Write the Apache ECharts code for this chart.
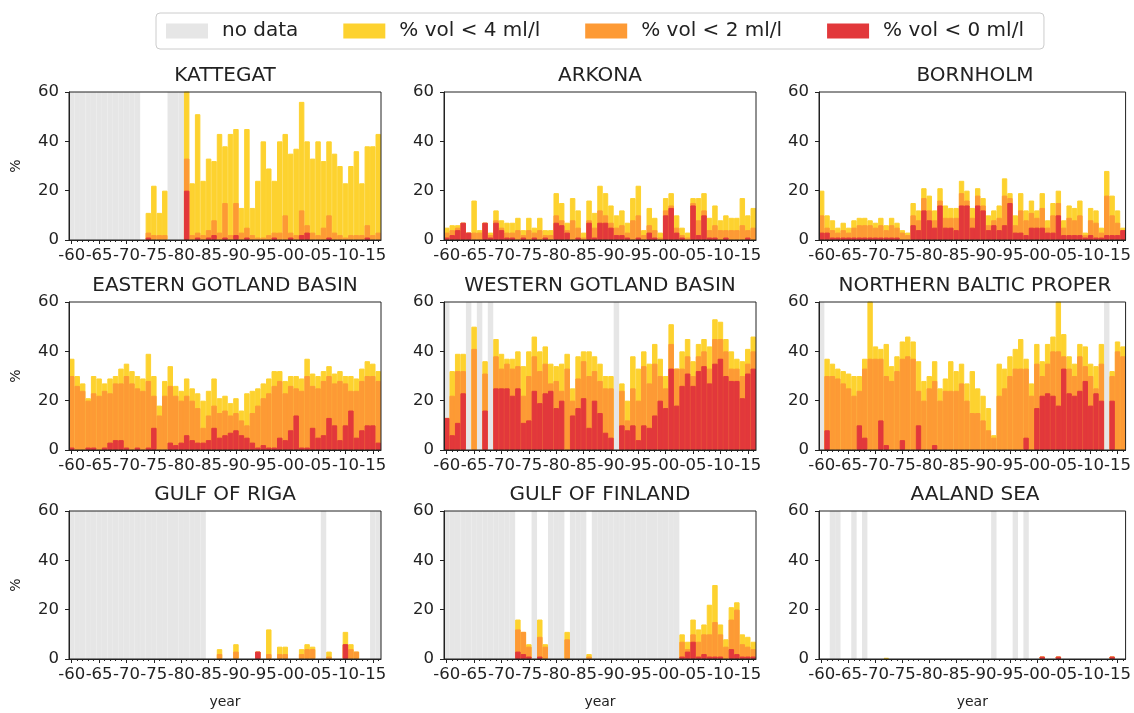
<!DOCTYPE html>
<html><head><meta charset="utf-8">
<script src="https://cdn.jsdelivr.net/npm/echarts@6/dist/echarts.min.js"></script>
<style>html,body{margin:0;padding:0;background:#fff}#c{width:1134px;height:713px}</style>
</head><body><div id="c"></div>
<script>
// ---------------- DATA ----------------
const years = [1960,1961,1962,1963,1964,1965,1966,1967,1968,1969,
  1970,1971,1972,1973,1974,1975,1976,1977,1978,1979,
  1980,1981,1982,1983,1984,1985,1986,1987,1988,1989,
  1990,1991,1992,1993,1994,1995,1996,1997,1998,1999,
  2000,2001,2002,2003,2004,2005,2006,2007,2008,2009,
  2010,2011,2012,2013,2014,2015,2016];
const tickYears = [1960,1965,1970,1975,1980,1985,1990,1995,2000,2005,2010,2015];
const tickLabels = ['-60','-65','-70','-75','-80','-85','-90','-95','-00','-05','-10','-15'];
const legendNames = ['no data','% vol < 4 ml/l','% vol < 2 ml/l','% vol < 0 ml/l'];
const panelNames = ['KATTEGAT','ARKONA','BORNHOLM','EASTERN GOTLAND BASIN','WESTERN GOTLAND BASIN',
  'NORTHERN BALTIC PROPER','GULF OF RIGA','GULF OF FINLAND','AALAND SEA'];

// KATTEGAT
const kattegatLt4 = [0,0,0,0,0,0,0,0,0,0, 0,0,0,0,11,22,11,20,0,0, 0,62,23,51,24,33,32,43,38,43,
  45,13,45,13,24,40,29,24,40,43, 35,37,56,40,33,40,32,40,35,30, 23,30,36,23,38,38,43];
const kattegatLt2 = [0,0,0,0,0,0,0,0,0,0, 0,0,0,0,3,2,2,2,0,0, 0,33,2,3,2,4,8,3,15,2,
  15,3,5,2,1,1,2,3,3,10, 3,2,12,6,3,2,5,10,3,2, 1,2,2,2,6,2,3];
const kattegatLt0 = [0,0,0,0,0,0,0,0,0,0, 0,0,0,0,1,0,0,0,0,0, 0,20,0,1,0,1,2,0,1,0,
  2,0,1,0,0,0,0,1,0,0, 1,0,2,3,0,0,0,1,0,0, 0,0,0,0,1,0,0];
const kattegatNoData = [1960,1961,1962,1963,1964,1965,1966,1967,1968,1969,1970,1971,1972,1978,1979,1980];

// ARKONA
const arkonaLt4 = [5,6,6,7,3,16,4,7,3,12, 8,7,7,9,4,9,5,9,4,4, 19,15,7,17,12,3,16,11,22,19,
  14,10,12,7,17,22,4,13,9,3, 17,19,10,5,3,17,17,19,9,14, 8,10,9,9,17,10,13];
const arkonaLt2 = [3,4,5,7,3,3,3,7,2,8, 5,3,3,4,2,4,3,4,2,2, 10,8,4,8,5,1,8,5,12,10,
  7,5,6,3,8,10,2,6,4,1, 12,14,5,2,1,15,8,12,4,6, 4,4,4,4,6,4,5];
const arkonaLt0 = [1,2,4,7,3,0,0,7,1,7, 4,1,1,0,1,0,1,0,1,0, 7,6,3,0,1,0,7,1,7,7,
  5,2,2,1,0,1,0,3,1,0, 10,13,3,1,0,14,2,10,1,1, 0,1,0,0,0,1,0];
const arkonaNoData = [];

// BORNHOLM
const bornholmLt4 = [20,10,8,5,7,5,8,9,9,8, 7,9,6,9,7,4,3,15,12,21, 18,12,21,14,13,13,24,20,13,21,
  17,10,12,14,25,19,10,19,12,16, 12,19,8,15,20,8,14,13,16,3, 13,12,5,28,18,12,5];
const bornholmLt2 = [10,5,4,3,4,3,5,6,6,6, 5,6,4,6,5,3,2,10,8,17, 12,8,16,9,9,9,19,16,9,18,
  14,6,8,9,18,17,6,12,8,11, 9,13,5,10,15,5,9,8,10,2, 8,7,3,18,10,7,4];
const bornholmLt0 = [3,3,1,1,1,1,1,1,1,1, 1,1,1,1,1,0,0,6,4,12, 8,5,14,5,5,4,14,14,5,14,
  12,4,6,4,6,15,3,3,2,5, 5,5,3,3,10,2,2,2,2,1, 2,1,1,2,2,2,4];
const bornholmNoData = [];

// EASTERN GOTLAND BASIN
const easternGotlandLt4 = [37,30,27,21,30,29,27,29,30,33, 35,32,30,29,39,30,18,28,34,26,
  24,29,25,23,20,24,29,21,22,19, 21,16,23,24,25,27,29,32,32,28, 30,30,29,37,31,30,32,34,31,32,
  30,30,29,33,36,35,32];
const easternGotlandLt2 = [30,26,24,20,23,22,24,23,27,27, 30,27,25,24,28,22,14,22,26,22,
  20,22,20,17,9,14,18,15,16,14, 15,12,10,15,18,21,23,26,28,23, 26,25,24,30,26,25,28,30,27,28,
  27,24,24,28,30,30,28];
const easternGotlandLt0 = [1,0,0,1,1,0,1,3,4,4, 1,0,1,0,1,9,0,0,3,2, 3,6,4,3,3,4,9,5,6,7,
  8,6,5,3,1,2,1,1,5,4, 8,14,1,1,9,5,6,13,10,4, 10,16,5,8,10,10,3];
const easternGotlandNoData = [];

// WESTERN GOTLAND BASIN
const westernGotlandLt4 = [13,32,39,39,0,50,0,36,0,45, 39,37,37,40,34,40,46,40,42,35,
  34,35,39,25,38,40,40,38,35,30, 30,0,27,20,38,33,40,35,43,37, 30,51,33,40,45,36,43,45,42,53,
  52,45,40,37,36,41,46];
const westernGotlandLt2 = [13,22,32,32,0,41,0,31,0,38, 33,35,33,34,22,30,38,32,35,27,
  28,24,33,20,29,36,30,32,28,25, 25,0,24,12,25,20,34,27,35,30, 25,43,33,33,38,30,38,40,33,45,
  45,40,33,33,30,35,40];
const westernGotlandLt0 = [13,6,11,23,0,0,0,16,0,25, 25,25,22,25,11,12,24,19,23,24,
  17,20,0,14,17,21,9,20,15,7, 5,0,10,8,10,4,10,9,14,20, 17,33,18,26,31,26,32,34,27,35,
  37,30,28,28,21,31,33];
const westernGotlandNoData = [1960,1964,1966,1968,1991];

// NORTHERN BALTIC PROPER
const northernBalticLt4 = [0,37,35,33,32,31,30,30,37,62, 42,41,43,34,38,44,46,44,36,28,
  30,36,25,29,36,32,35,27,32,25, 22,17,6,35,33,38,41,45,37,27, 43,36,43,46,62,47,38,35,43,42,
  35,34,43,0,32,44,42];
const northernBalticLt2 = [0,30,30,29,27,25,22,24,33,37, 37,37,30,28,32,37,38,37,24,20,
  25,28,20,24,24,24,27,20,15,15, 12,8,5,22,25,30,33,33,33,22, 35,30,35,40,40,38,33,30,38,34,
  30,25,35,0,30,40,38];
const northernBalticLt0 = [0,8,0,0,0,0,0,10,5,0, 0,12,2,0,0,4,0,0,10,0,
  0,2,0,0,0,0,0,0,0,0, 0,0,0,0,0,0,0,0,5,0, 17,22,23,22,18,33,23,22,24,28,
  18,23,20,0,20,0,0];
const northernBalticNoData = [1960,2013];

// GULF OF RIGA
const gulfRigaLt4 = [0,0,0,0,0,0,0,0,0,0, 0,0,0,0,0,0,0,0,0,0, 0,0,0,0,0,0,0,4,0,0,
  6,0,0,0,3,0,12,0,5,5, 0,0,4,6,5,0,0,3,0,0, 11,6,3,0,0,0,0];
const gulfRigaLt2 = [0,0,0,0,0,0,0,0,0,0, 0,0,0,0,0,0,0,0,0,0, 0,0,0,0,0,0,0,2,0,0,
  3,0,0,0,3,0,2,0,2,2, 0,0,2,4,4,0,0,1,0,0, 6,4,3,0,0,0,0];
const gulfRigaLt0 = [0,0,0,0,0,0,0,0,0,0, 0,0,0,0,0,0,0,0,0,0, 0,0,0,0,0,0,0,0,0,0,
  0,0,0,0,3,0,0,0,0,0, 0,0,0,0,0,0,0,0,0,0, 6,0,0,0,0,0,0];
const gulfRigaNoData = [1960,1961,1962,1963,1964,1965,1966,1967,1968,1969,1970,1971,1972,1973,1974,
  1975,1976,1977,1978,1979,1980,1981,1982,1983,1984,2006,2015,2016];

// GULF OF FINLAND
const gulfFinlandLt4 = [0,0,0,0,0,0,0,0,0,0, 0,0,0,16,11,6,0,16,6,0, 0,0,11,0,0,0,2,0,0,0,
  0,0,0,0,0,0,0,0,0,0, 0,0,0,10,7,16,12,14,22,30, 14,8,21,23,10,9,7];
const gulfFinlandLt2 = [0,0,0,0,0,0,0,0,0,0, 0,0,0,12,11,5,0,9,5,0, 0,0,8,0,0,0,1,0,0,0,
  0,0,0,0,0,0,0,0,0,0, 0,0,0,7,4,10,7,10,10,15, 10,5,16,20,6,5,4];
const gulfFinlandLt0 = [0,0,0,0,0,0,0,0,0,0, 0,0,0,3,2,1,0,1,0,0, 0,0,0,0,0,0,0,0,0,0,
  0,0,0,0,0,0,0,0,0,0, 0,0,0,1,3,7,1,2,1,1, 1,0,4,2,1,1,1];
const gulfFinlandNoData = [1960,1961,1962,1963,1964,1965,1966,1967,1968,1969,1970,1971,1972,1976,
  1979,1980,1981,1983,1984,1985,1987,1988,1989,1990,1991,1992,1993,1994,1995,1996,1997,1998,
  1999,2000,2001,2002];

// AALAND SEA
const aalandLt4 = [0,0,0,0,0,0,0,0,0,0, 0,0,0.5,0,0,0,0,0,0,0, 0,0,0,0,0,0,0,0,0,0,
  0,0,0,0,0,0,0,0,0,0, 0,1,0,0,1,0,0,0,0,0, 0,0,0,0,1,0,0];
const aalandLt2 = [0,0,0,0,0,0,0,0,0,0, 0,0,0,0,0,0,0,0,0,0, 0,0,0,0,0,0,0,0,0,0,
  0,0,0,0,0,0,0,0,0,0, 0,1,0,0,1,0,0,0,0,0, 0,0,0,0,1,0,0];
const aalandLt0 = [0,0,0,0,0,0,0,0,0,0, 0,0,0,0,0,0,0,0,0,0, 0,0,0,0,0,0,0,0,0,0,
  0,0,0,0,0,0,0,0,0,0, 0,1,0,0,1,0,0,0,0,0, 0,0,0,0,1,0,0];
const aalandNoData = [1962,1963,1966,1968,1992,1996,1998];

// ---------------- CHART ----------------
const panels = [
  [kattegatLt4, kattegatLt2, kattegatLt0, kattegatNoData],
  [arkonaLt4, arkonaLt2, arkonaLt0, arkonaNoData],
  [bornholmLt4, bornholmLt2, bornholmLt0, bornholmNoData],
  [easternGotlandLt4, easternGotlandLt2, easternGotlandLt0, easternGotlandNoData],
  [westernGotlandLt4, westernGotlandLt2, westernGotlandLt0, westernGotlandNoData],
  [northernBalticLt4, northernBalticLt2, northernBalticLt0, northernBalticNoData],
  [gulfRigaLt4, gulfRigaLt2, gulfRigaLt0, gulfRigaNoData],
  [gulfFinlandLt4, gulfFinlandLt2, gulfFinlandLt0, gulfFinlandNoData],
  [aalandLt4, aalandLt2, aalandLt0, aalandNoData]
];
const yMax = 60;
const colLeft = [69, 444, 819], rowTop = [92, 302, 511], gridW = 312, gridH = 148;
const colors = ['#e6e6e6', '#fdd22f', '#fd9a35', '#e2383b'];
const ink = '#222222';
const font = 'DejaVu Sans';

const grid = [], xAxis = [], yAxis = [], series = [], title = [];
panels.forEach((p, k) => {
  const r = Math.floor(k / 3), c = k % 3;
  grid.push({left: colLeft[c], top: rowTop[r], width: gridW, height: gridH, show: true,
    borderColor: ink, borderWidth: 1, z: 3});
  title.push({text: panelNames[k], left: colLeft[c] + gridW / 2, top: rowTop[r] - 16,
    textAlign: 'center', textVerticalAlign: 'middle', padding: 0,
    textStyle: {fontFamily: font, fontSize: 20, fontWeight: 'normal', color: ink}});
  xAxis.push({type: 'value', gridIndex: k, min: 1959.5, max: 2016.5, position: 'bottom', z: 4,
    name: r === 2 ? 'year' : '', nameLocation: 'middle', nameGap: 36,
    nameTextStyle: {fontFamily: font, fontSize: 14, color: ink},
    axisLine: {show: true, onZero: false, lineStyle: {color: ink, width: 1}},
    axisTick: {show: true, customValues: tickYears, length: 4, lineStyle: {color: ink}},
    axisLabel: {show: true, customValues: tickYears, margin: 7, fontFamily: font, fontSize: 16.5, color: ink,
      formatter: v => { const i = tickYears.indexOf(v); return i >= 0 ? tickLabels[i] : ''; }},
    splitLine: {show: false}});
  xAxis.push({type: 'value', gridIndex: k, min: 1959.5, max: 2016.5, position: 'bottom', z: 4,
    axisLine: {show: false, onZero: false},
    axisTick: {show: true, customValues: years, length: 2, lineStyle: {color: ink}},
    axisLabel: {show: false}, splitLine: {show: false}});
  yAxis.push({type: 'value', gridIndex: k, min: 0, max: yMax, interval: 20, z: 4,
    name: c === 0 ? '%' : '', nameLocation: 'middle', nameGap: 46, nameRotate: 90,
    nameTextStyle: {fontFamily: font, fontSize: 14, color: ink},
    axisLine: {show: true, lineStyle: {color: ink, width: 1}},
    axisTick: {show: true, length: 4, lineStyle: {color: ink}},
    axisLabel: {margin: 10, fontFamily: font, fontSize: 16.5, color: ink},
    splitLine: {show: false}});
  const base = {type: 'bar', xAxisIndex: 2 * k, yAxisIndex: k, barWidth: '100%', barGap: '-100%',
    silent: true, animation: false, clip: true};
  series.push(Object.assign({}, base, {name: legendNames[0],
    itemStyle: {color: colors[0], borderColor: colors[0], borderWidth: 1.5},
    data: p[3].map(y => [y, yMax])}));
  for (let s = 0; s < 3; s++) {
    series.push(Object.assign({}, base, {name: legendNames[s + 1],
      itemStyle: {color: colors[s + 1], borderColor: colors[s + 1], borderWidth: 1},
      data: years.map((y, i) => [y, p[s][i] > 0 ? p[s][i] : null])}));
  }
});

const chart = echarts.init(document.getElementById('c'), null, {renderer: 'canvas'});
chart.setOption({
  animation: false,
  backgroundColor: '#ffffff',
  title: title,
  legend: {data: legendNames.map(n => ({name: n, itemStyle: {borderWidth: 0}})),
    left: 156, top: 13, selectedMode: false, icon: 'rect',
    itemWidth: 42, itemHeight: 15, itemGap: 45,
    padding: [8, 20, 8, 10], borderColor: '#cccccc', borderWidth: 1, borderRadius: 4,
    textStyle: {fontFamily: font, fontSize: 20, color: ink, padding: [0, 0, 0, 9]}},
  grid: grid, xAxis: xAxis, yAxis: yAxis, series: series
});
</script></body></html>
